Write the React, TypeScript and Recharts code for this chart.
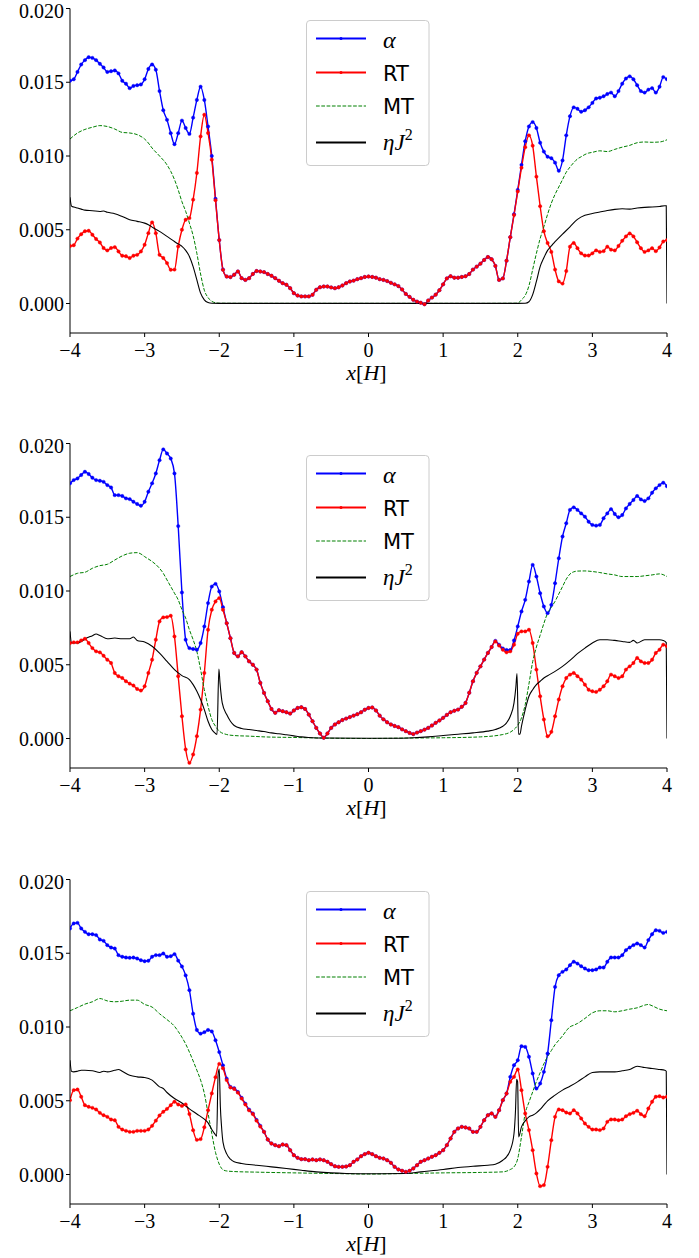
import React from 'react';
import { LineChart, Line, XAxis, YAxis } from 'recharts';

// x positions of the alpha / RT samples: -4 .. 4, step 0.05
const grid = Array.from({ length: 161 }, (_, i) => Math.round((i * 0.05 - 4) * 100) / 100);

const xTicks = [-4, -3, -2, -1, 0, 1, 2, 3, 4];
const yTicks = [0, 0.005, 0.01, 0.015, 0.02];

// every series value below is in units of 1e-3

// ---- panel 1 ----
const alpha1 = [
  15.1, 15.2, 15.7, 16.2, 16.5, 16.7, 16.65, 16.5, 16.25, 16.0,
  15.7, 15.75, 15.8, 15.6, 15.1, 14.9, 14.6, 14.75, 14.8, 14.85,
  15.2, 15.9, 16.2, 15.85, 14.4, 13.1, 12.45, 11.55, 10.8, 11.55,
  12.4, 11.9, 11.5, 12.6, 13.8, 14.7, 13.8, 12.0, 10.0, 7.1,
  4.3, 2.3, 1.83, 1.79, 1.95, 2.17, 1.72, 1.6, 1.72, 2.0,
  2.2, 2.17, 2.13, 2.0, 1.88, 1.72, 1.54, 1.38, 1.27, 1.04,
  0.7, 0.54, 0.48, 0.48, 0.48, 0.59, 0.93, 1.1, 1.15, 1.15,
  1.09, 1.04, 1.1, 1.22, 1.38, 1.49, 1.55, 1.65, 1.72, 1.8,
  1.83, 1.8, 1.75, 1.65, 1.6, 1.52, 1.4, 1.3, 1.18, 0.95,
  0.65, 0.45, 0.25, 0.13, 0.05, -0.05, 0.2, 0.4, 0.6, 0.9,
  1.3, 1.7, 1.85, 1.75, 1.75, 1.8, 1.85, 2.0, 2.3, 2.5,
  2.7, 2.95, 3.15, 3.0, 2.55, 1.6, 1.7, 2.9, 4.5, 6.05,
  7.7, 9.4, 11.0, 12.0, 12.3, 11.9, 10.9, 10.3, 9.95, 9.85,
  9.55, 9.0, 9.7, 11.4, 12.7, 13.3, 13.2, 13.0, 13.1, 13.3,
  13.6, 13.9, 13.95, 14.05, 14.2, 14.3, 14.05, 14.4, 14.9, 15.25,
  15.4, 15.2, 14.8, 14.4, 14.3, 14.5, 14.6, 14.3, 14.7, 15.35,
  15.2,
];
const rt1 = [
  3.9, 3.95, 4.4, 4.7, 4.9, 4.93, 4.66, 4.37, 4.14, 3.76,
  3.6, 3.76, 3.82, 3.53, 3.24, 3.2, 3.08, 3.24, 3.3, 3.53,
  3.98, 4.77, 5.5, 4.77, 3.3, 3.08, 2.74, 2.29, 2.3, 3.87,
  5.0, 5.68, 5.79, 7.04, 8.85, 11.33, 12.8, 11.56, 9.75, 7.0,
  4.3, 2.28, 1.83, 1.79, 1.95, 2.17, 1.72, 1.6, 1.72, 2.0,
  2.2, 2.17, 2.13, 2.0, 1.88, 1.72, 1.54, 1.38, 1.27, 1.04,
  0.7, 0.54, 0.48, 0.48, 0.48, 0.59, 0.93, 1.1, 1.15, 1.15,
  1.09, 1.04, 1.1, 1.22, 1.38, 1.49, 1.55, 1.65, 1.72, 1.8,
  1.83, 1.8, 1.75, 1.65, 1.6, 1.52, 1.4, 1.3, 1.18, 0.95,
  0.65, 0.45, 0.25, 0.13, 0.05, -0.05, 0.2, 0.4, 0.6, 0.9,
  1.3, 1.7, 1.85, 1.75, 1.75, 1.8, 1.85, 2.0, 2.3, 2.5,
  2.7, 2.95, 3.15, 3.0, 2.55, 1.6, 1.7, 2.9, 4.5, 6.0,
  7.6, 9.2, 10.6, 11.4, 10.7, 8.6, 6.6, 4.9, 4.1, 3.5,
  2.3, 1.5, 1.35, 2.2, 3.85, 4.1, 3.75, 3.4, 3.25, 3.25,
  3.4, 3.6, 3.5, 3.55, 3.85, 3.65, 3.6, 3.9, 4.25, 4.55,
  4.75, 4.55, 4.15, 3.75, 3.5, 3.6, 3.75, 3.55, 3.8, 4.2,
  4.3,
];
const mtX1 = [
  -4, -3.9, -3.8, -3.7, -3.6, -3.5, -3.4, -3.3, -3.2, -3.1, -3.0, -2.95, -2.9, -2.8, -2.7,
  -2.65, -2.6, -2.55, -2.5, -2.45, -2.4, -2.35, -2.3, -2.25, -2.2, -2.15, -2.1, -2.05, -2.0,
  -1.5, -1.0, 0, 1.0, 1.5,
  2.0, 2.05, 2.1, 2.15, 2.2, 2.25, 2.3, 2.35, 2.4, 2.45, 2.5, 2.55, 2.6, 2.65, 2.7, 2.75, 2.8,
  2.85, 2.9, 2.95, 3.0, 3.1, 3.2, 3.3, 3.4, 3.5, 3.6, 3.7, 3.8, 3.9, 4.0,
];
const mt1 = [
  11.15, 11.56, 11.8, 11.95, 12.06, 12.0, 11.83, 11.6, 11.56, 11.45, 11.15, 10.88, 10.54, 10.0, 9.4,
  8.96, 8.4, 7.7, 6.9, 6.25, 5.45, 4.6, 3.4, 2.0, 0.9, 0.4, 0.15, 0.05, 0.02,
  0.01, 0.01, 0.01, 0.01, 0.01,
  0.02, 0.25, 0.55, 1.2, 2.3, 3.4, 4.4, 5.2, 6.05, 6.8, 7.4, 7.9, 8.4, 8.9, 9.25, 9.55, 9.8,
  9.95, 10.1, 10.2, 10.25, 10.35, 10.3, 10.45, 10.6, 10.72, 10.9, 10.95, 10.93, 10.95, 11.1,
];
const etaX1 = [
  -4, -3.98, -3.95, -3.9, -3.85, -3.8, -3.7, -3.6, -3.55, -3.5, -3.4, -3.3, -3.2, -3.1, -3.0,
  -2.95, -2.9, -2.8, -2.7, -2.6, -2.55, -2.5, -2.45, -2.4, -2.35, -2.3, -2.25, -2.2, -2.15, -2.1,
  -2.0, -1.0, 0, 1.0, 2.0,
  2.1, 2.15, 2.2, 2.25, 2.3, 2.35, 2.4, 2.45, 2.5, 2.55, 2.6, 2.7, 2.8, 2.9, 3.0,
  3.1, 3.2, 3.3, 3.4, 3.5, 3.6, 3.7, 3.8, 3.9, 3.97, 3.99, 4.0,
];
const eta1 = [
  7.2, 6.6, 6.54, 6.47, 6.4, 6.33, 6.29, 6.24, 6.27, 6.18, 6.09, 5.9, 5.68, 5.57, 5.45,
  5.34, 5.18, 4.89, 4.55, 4.2, 4.03, 3.87, 3.6, 3.19, 2.5, 1.6, 0.7, 0.25, 0.07, 0.02,
  0.01, 0.01, 0.01, 0.01, 0.01,
  0.02, 0.12, 0.6, 1.5, 2.5, 3.1, 3.6, 3.9, 4.2, 4.45, 4.7, 5.2, 5.7, 5.98, 6.1,
  6.2, 6.3, 6.38, 6.42, 6.4, 6.47, 6.52, 6.54, 6.58, 6.63, 6.63, 0,
];

// ---- panel 2 ----
const alpha2 = [
  17.3, 17.52, 17.63, 17.86, 18.08, 17.93, 17.68, 17.52, 17.47, 17.4,
  17.18, 17.02, 16.5, 16.5, 16.44, 16.28, 16.23, 16.05, 15.9, 15.78,
  16.05, 16.73, 17.3, 17.97, 18.87, 19.6, 19.32, 18.98, 17.97, 14.4,
  9.9, 6.7, 6.13, 6.07, 6.02, 6.47, 7.6, 9.18, 10.3, 10.48,
  9.97, 8.9, 7.82, 6.8, 5.8, 5.57, 5.85, 5.57, 5.23, 5.0,
  4.67, 3.77, 3.09, 2.53, 2.0, 1.74, 1.92, 1.85, 1.78, 1.69,
  1.9, 2.07, 2.12, 2.0, 1.62, 1.17, 0.72, 0.34, 0.05, 0.34,
  0.72, 0.95, 1.1, 1.25, 1.35, 1.45, 1.55, 1.65, 1.78, 1.95,
  2.07, 2.1, 1.9, 1.55, 1.3, 1.1, 0.95, 0.85, 0.77, 0.62,
  0.5, 0.38, 0.3, 0.4, 0.5, 0.6, 0.72, 0.88, 1.06, 1.22,
  1.4, 1.6, 1.78, 1.88, 1.96, 2.15, 2.41, 3.1, 3.88, 4.45,
  4.89, 5.35, 5.8, 6.2, 6.62, 6.35, 6.1, 6.0, 6.0, 6.65,
  7.6, 8.61, 9.4, 10.64, 11.77, 10.98, 9.85, 8.95, 8.5, 9.06,
  10.53, 12.22, 13.69, 14.59, 15.5, 15.67, 15.5, 15.26, 15.04, 14.7,
  14.48, 14.43, 14.48, 14.93, 15.26, 15.55, 15.22, 15.0, 15.15, 15.6,
  15.9, 16.17, 16.44, 16.21, 16.1, 16.28, 16.66, 16.96, 17.18, 17.34,
  17.1,
];
const rt2 = [
  6.47, 6.52, 6.52, 6.65, 6.76, 6.47, 6.13, 5.91, 5.84, 5.61,
  5.34, 5.12, 4.44, 4.22, 4.1, 3.88, 3.72, 3.59, 3.36, 3.25,
  3.54, 4.44, 5.34, 6.7, 7.94, 8.21, 8.23, 8.32, 6.92, 4.22,
  1.51, -0.74, -1.65, -1.08, 0.16, 1.96, 4.44, 7.37, 8.73, 9.29,
  9.52, 8.73, 7.82, 6.8, 5.8, 5.57, 5.85, 5.57, 5.23, 5.0,
  4.67, 3.77, 3.09, 2.53, 2.0, 1.74, 1.92, 1.85, 1.78, 1.69,
  1.9, 2.07, 2.12, 2.0, 1.62, 1.17, 0.72, 0.34, 0.05, 0.34,
  0.72, 0.95, 1.1, 1.25, 1.35, 1.45, 1.55, 1.65, 1.78, 1.95,
  2.07, 2.1, 1.9, 1.55, 1.3, 1.1, 0.95, 0.85, 0.77, 0.62,
  0.5, 0.38, 0.3, 0.4, 0.5, 0.6, 0.72, 0.88, 1.06, 1.22,
  1.4, 1.6, 1.78, 1.88, 1.96, 2.15, 2.41, 3.1, 3.88, 4.45,
  4.89, 5.35, 5.8, 6.2, 6.58, 6.3, 6.02, 5.84, 5.91, 6.36,
  7.1, 7.26, 7.26, 7.37, 6.47, 4.67, 2.86, 1.29, 0.15, 0.45,
  1.51, 2.64, 3.54, 4.1, 4.33, 4.44, 4.22, 3.99, 3.65, 3.31,
  3.2, 3.16, 3.31, 3.54, 3.88, 4.33, 4.22, 4.1, 4.22, 4.67,
  4.89, 5.12, 5.46, 5.23, 5.12, 5.12, 5.34, 5.8, 6.02, 6.36,
  6.25,
];
const mtX2 = [
  -4, -3.9, -3.8, -3.7, -3.6, -3.5, -3.4, -3.3, -3.2, -3.1, -3.05, -3.0, -2.9, -2.8,
  -2.75, -2.7, -2.65, -2.6, -2.55, -2.5, -2.45, -2.4, -2.35, -2.3, -2.25, -2.2, -2.15, -2.1, -2.05, -2.0,
  -1.9, -1.8, -1.6, -1.4, -1.0, -0.5, 0, 0.5, 1.0, 1.5, 1.8, 1.9,
  1.95, 2.0, 2.05, 2.1, 2.15, 2.2, 2.25, 2.3, 2.35, 2.4, 2.45, 2.5, 2.55, 2.6, 2.65, 2.7, 2.75, 2.8,
  2.9, 3.0, 3.1, 3.2, 3.3, 3.4, 3.5, 3.6, 3.7, 3.8, 3.9, 4.0,
];
const mt2 = [
  10.98, 11.2, 11.27, 11.54, 11.72, 11.81, 12.1, 12.38, 12.56, 12.6, 12.51, 12.33, 12.0, 11.54,
  11.2, 10.75, 10.3, 9.85, 9.4, 8.73, 8.16, 7.37, 6.7, 5.9, 4.67, 3.31, 2.19, 1.29, 0.83, 0.5,
  0.27, 0.2, 0.16, 0.11, 0.07, 0.02, 0.0, 0.03, 0.05, 0.11, 0.27, 0.43,
  0.61, 0.9, 1.4, 2.3, 3.7, 5.2, 6.2, 7.0, 7.8, 8.5, 8.9, 9.3, 9.8, 10.3, 10.8, 11.15, 11.3, 11.35,
  11.36, 11.32, 11.25, 11.16, 11.09, 10.98, 10.98, 10.98, 11.03, 11.09, 11.16, 10.98,
];
const etaX2 = [
  -4, -3.98, -3.95, -3.9, -3.85, -3.8, -3.7, -3.65, -3.6, -3.5, -3.4, -3.3, -3.2, -3.15, -3.1,
  -3.0, -2.9, -2.8, -2.7, -2.6, -2.5, -2.4, -2.35, -2.3, -2.25, -2.2, -2.15, -2.1, -2.05, -2.03,
  -2.005, -1.99, -1.96, -1.9, -1.85, -1.8, -1.7, -1.6, -1.5, -1.4, -1.3, -1.2, -1.1, -1.0, -0.9,
  -0.8, -0.6, 0, 0.4, 0.6, 0.8, 1.0, 1.2, 1.4, 1.6, 1.7, 1.8, 1.85, 1.9, 1.95,
  1.975, 1.99, 2.01, 2.03, 2.05, 2.1, 2.15, 2.2, 2.25, 2.3, 2.35, 2.4, 2.5, 2.6, 2.7,
  2.8, 2.9, 3.0, 3.1, 3.2, 3.3, 3.4, 3.5, 3.55, 3.6, 3.7, 3.8, 3.9, 3.95, 3.99, 4.0,
];
const eta2 = [
  7.26, 6.5, 6.47, 6.47, 6.58, 6.74, 6.97, 7.08, 6.99, 6.76, 6.81, 6.76, 6.76, 6.88, 6.65,
  6.54, 6.25, 5.79, 5.23, 4.67, 4.26, 3.99, 3.65, 3.2, 2.64, 1.96, 1.17, 0.61, 0.34, 0.27,
  4.7, 3.77, 2.41, 1.62, 1.17, 0.88, 0.68, 0.61, 0.54, 0.47, 0.38, 0.32, 0.25, 0.18, 0.11,
  0.07, 0.03, 0.02, 0.02, 0.05, 0.11, 0.2, 0.29, 0.38, 0.5, 0.61, 0.83, 1.06, 1.51, 2.41,
  3.5, 4.4, 0.3, 0.3, 0.83, 1.96, 2.86, 3.31, 3.65, 3.88, 4.1, 4.26, 4.55, 4.89, 5.3,
  5.75, 6.13, 6.47, 6.7, 6.7, 6.65, 6.58, 6.52, 6.65, 6.47, 6.7, 6.7, 6.7, 6.65, 6.5, 0,
];

// ---- panel 3 ----
const alpha3 = [
  16.68, 17.02, 17.06, 16.68, 16.45, 16.29, 16.29, 16.23, 15.93, 15.84,
  15.55, 15.39, 15.32, 14.87, 14.76, 14.71, 14.69, 14.71, 14.64, 14.53,
  14.46, 14.49, 14.76, 14.87, 14.87, 14.98, 14.76, 14.8, 14.94, 14.5,
  14.1, 13.5, 12.5, 10.9, 9.8, 9.55, 9.65, 9.8, 9.7, 9.1,
  8.3, 7.4, 6.5, 5.94, 5.85, 5.6, 5.2, 4.8, 4.4, 4.14,
  3.7, 3.3, 2.89, 2.37, 2.1, 1.99, 1.92, 2.03, 1.99, 1.65,
  1.31, 1.13, 1.04, 1.04, 0.97, 1.02, 0.97, 1.02, 0.97, 0.86,
  0.7, 0.56, 0.52, 0.52, 0.54, 0.63, 0.86, 1.02, 1.24, 1.38,
  1.47, 1.38, 1.24, 1.13, 1.08, 0.97, 0.79, 0.52, 0.34, 0.25,
  0.18, 0.25, 0.41, 0.63, 0.86, 0.97, 1.08, 1.2, 1.31, 1.47,
  1.65, 1.99, 2.44, 2.89, 3.12, 3.23, 3.19, 3.12, 2.89, 2.89,
  3.23, 3.68, 4.02, 4.14, 3.91, 4.36, 5.04, 5.49, 6.62, 7.41,
  7.75, 8.7, 8.65, 7.98, 6.85, 5.83, 6.17, 6.96, 8.2, 10.46,
  12.72, 13.51, 13.74, 13.9, 14.19, 14.42, 14.3, 14.12, 13.97, 13.85,
  13.85, 13.9, 14.03, 14.03, 14.42, 14.71, 14.71, 14.71, 14.87, 15.21,
  15.39, 15.55, 15.66, 15.55, 15.39, 15.89, 16.29, 16.56, 16.52, 16.38,
  16.45,
];
const rt3 = [
  5.04, 5.72, 5.76, 5.27, 4.7, 4.59, 4.52, 4.41, 4.18, 4.02,
  3.91, 3.73, 3.68, 3.23, 3.05, 2.96, 2.89, 2.89, 2.96, 2.96,
  2.96, 3.05, 3.3, 3.65, 4.0, 4.25, 4.45, 4.7, 4.93, 4.75,
  4.65, 4.75, 4.1, 3.0, 2.35, 2.4, 3.2, 4.36, 5.5, 6.6,
  7.5, 7.2, 6.4, 5.9, 5.8, 5.55, 5.15, 4.75, 4.35, 4.1,
  3.65, 3.25, 2.89, 2.37, 2.1, 1.99, 1.92, 2.03, 1.99, 1.65,
  1.31, 1.13, 1.04, 1.04, 0.97, 1.02, 0.97, 1.02, 0.97, 0.86,
  0.7, 0.56, 0.52, 0.52, 0.54, 0.63, 0.86, 1.02, 1.24, 1.38,
  1.47, 1.38, 1.24, 1.13, 1.08, 0.97, 0.79, 0.52, 0.34, 0.25,
  0.18, 0.25, 0.41, 0.63, 0.86, 0.97, 1.08, 1.2, 1.31, 1.47,
  1.65, 1.99, 2.44, 2.89, 3.12, 3.23, 3.19, 3.12, 2.89, 2.89,
  3.23, 3.68, 4.02, 4.14, 3.91, 4.36, 5.04, 5.49, 6.28, 6.62,
  7.12, 5.72, 4.14, 3.01, 1.65, 0.07, -0.79, -0.72, 0.52, 2.33,
  3.91, 4.41, 4.36, 4.2, 4.14, 4.36, 4.14, 3.8, 3.46, 3.23,
  3.05, 3.05, 3.01, 3.12, 3.57, 3.73, 3.73, 3.68, 3.73, 3.95,
  4.09, 4.18, 4.32, 4.09, 3.95, 4.47, 4.93, 5.27, 5.31, 5.22,
  5.27,
];
const mtX3 = [
  -4, -3.9, -3.8, -3.7, -3.6, -3.5, -3.4, -3.3, -3.2, -3.1, -3.0, -2.9, -2.8, -2.7, -2.6,
  -2.55, -2.5, -2.45, -2.4, -2.35, -2.3, -2.25, -2.2, -2.15, -2.1, -2.05, -2.0, -1.95, -1.9,
  -1.8, -1.5, -1.0, -0.5, 0, 0.5, 1.0, 1.5, 1.8, 1.9,
  1.95, 2.0, 2.05, 2.1, 2.15, 2.2, 2.25, 2.3, 2.35, 2.4, 2.45, 2.5, 2.55, 2.6, 2.65, 2.7, 2.75, 2.8,
  2.9, 3.0, 3.1, 3.2, 3.3, 3.4, 3.5, 3.6, 3.7, 3.75, 3.8, 3.9, 4.0,
];
const mt3 = [
  11.1, 11.32, 11.55, 11.71, 11.93, 11.77, 11.71, 11.75, 11.82, 11.82, 11.53, 11.35, 10.9, 10.5, 10.05,
  9.7, 9.3, 8.85, 8.3, 7.7, 7.07, 6.4, 5.5, 4.14, 2.77, 1.5, 0.7, 0.32, 0.24,
  0.2, 0.16, 0.11, 0.07, 0.03, 0.07, 0.11, 0.14, 0.18, 0.34,
  0.52, 1.08, 2.55, 4.14, 4.9, 5.6, 6.3, 6.9, 7.5, 8.0, 8.4, 8.8, 9.1, 9.4, 9.74, 10.01, 10.12, 10.24,
  10.58, 10.96, 11.1, 11.1, 11.03, 11.1, 11.21, 11.3, 11.48, 11.53, 11.44, 11.21, 11.1,
];
const etaX3 = [
  -4, -3.98, -3.95, -3.9, -3.85, -3.8, -3.7, -3.6, -3.55, -3.5, -3.4, -3.35, -3.3, -3.2, -3.1,
  -3.0, -2.9, -2.8, -2.75, -2.7, -2.6, -2.5, -2.4, -2.3, -2.2, -2.15, -2.1, -2.06, -2.035, -2.015,
  -2.0, -1.985, -1.97, -1.95, -1.9, -1.85, -1.8, -1.7, -1.5, -1.3, -1.1, -0.9, -0.7, -0.5, -0.3,
  0, 0.5, 0.7, 1.0, 1.2, 1.4, 1.6, 1.7, 1.8, 1.85, 1.9, 1.95, 1.97, 1.985, 1.998,
  2.012, 2.05, 2.1, 2.15, 2.2, 2.25, 2.3, 2.35, 2.4, 2.5, 2.6, 2.7, 2.8, 2.9, 3.0,
  3.1, 3.2, 3.3, 3.4, 3.5, 3.6, 3.7, 3.8, 3.9, 3.97, 3.99, 4.0,
];
const eta3 = [
  7.75, 7.0, 6.96, 7.0, 7.07, 7.07, 7.03, 6.92, 7.0, 6.96, 7.07, 7.12, 7.0, 6.73, 6.62,
  6.58, 6.4, 5.94, 5.83, 5.56, 5.15, 4.85, 4.45, 4.1, 3.75, 3.5, 3.05, 2.75, 2.6, 6.8,
  7.15, 4.6, 3.3, 2.2, 1.4, 1.04, 0.86, 0.75, 0.63, 0.52, 0.41, 0.29, 0.18, 0.11, 0.07,
  0.05, 0.07, 0.18, 0.34, 0.47, 0.56, 0.63, 0.7, 0.97, 1.2, 1.65, 2.78, 4.36, 6.46, 6.3,
  2.55, 3.23, 3.64, 3.91, 4.02, 4.18, 4.41, 4.7, 4.99, 5.38, 5.72, 5.99, 6.28, 6.62, 6.92,
  6.96, 6.96, 6.96, 7.03, 7.12, 7.34, 7.25, 7.19, 7.12, 7.07, 7.0, 0,
];

const BLUE = '#0000ff';
const RED = '#ff0000';
const GREEN = '#008000';
const BLACK = '#000000';
const SERIF = 'Liberation Serif';
const SANS = 'DejaVu Sans';

const toPoints = (xs: number[], ys: number[]) => xs.map((x, i) => ({ x, y: ys[i] / 1000 }));

const fmtX = (v: number) => (v < 0 ? '\u2212' + Math.abs(v) : String(v));

const XTick = (props: any) => {
  const { x, y, payload } = props;
  return (
    <text x={x} y={y + 11} textAnchor="middle" dominantBaseline="central" fontFamily={SERIF} fontSize={20} fill="#000">
      {fmtX(payload.value)}
    </text>
  );
};

const YTick = (props: any) => {
  const { x, y, payload } = props;
  // keep the top label inside the drawing
  const ty = Math.max(y, 11);
  return (
    <text x={x} y={ty} textAnchor="end" dominantBaseline="central" fontFamily={SERIF} fontSize={20} fill="#000">
      {Number(payload.value).toFixed(3)}
    </text>
  );
};

const XLabel = (props: any) => {
  const vb = props.viewBox || {};
  return (
    <text x={vb.x + vb.width / 2 - 2} y={vb.y + 47} textAnchor="middle" fontFamily={SERIF} fontSize={22} fill="#000">
      <tspan fontStyle="italic">x</tspan>
      <tspan>[</tspan>
      <tspan fontStyle="italic">H</tspan>
      <tspan>]</tspan>
    </text>
  );
};

const LegendBox = () => (
  <svg width={125} height={148} style={{ position: 'absolute', left: 306, top: 19.5 }}>
    <rect x={0.5} y={0.5} width={122.5} height={145} rx={3.5} fill="#fff" fillOpacity={0.8} stroke="#cccccc" />
    <line x1={10} x2={60} y1={18.5} y2={18.5} stroke={BLUE} strokeWidth={2} />
    <circle cx={35} cy={18.5} r={1.5} fill={BLUE} />
    <text x={77} y={27.5} fontFamily={SERIF} fontStyle="italic" fontSize={24} fill="#000">α</text>
    <line x1={10} x2={60} y1={52.5} y2={52.5} stroke={RED} strokeWidth={2} />
    <circle cx={35} cy={52.5} r={1.5} fill={RED} />
    <text x={77} y={60.7} fontFamily={SANS} fontSize={21} fill="#000">RT</text>
    <line x1={10} x2={60} y1={86} y2={86} stroke={GREEN} strokeWidth={1.2} strokeDasharray="3.7 1.6" />
    <text x={77} y={94} fontFamily={SANS} fontSize={21} fill="#000">MT</text>
    <line x1={10} x2={60} y1={122.5} y2={122.5} stroke={BLACK} strokeWidth={2} />
    <text x={77} y={130} fontFamily={SERIF} fontStyle="italic" fontSize={23} fill="#000">
      ηJ<tspan fontStyle="normal" fontSize={16} dy={-10}>2</tspan>
    </text>
  </svg>
);

interface PanelProps {
  top: number;
  alpha: number[];
  rt: number[];
  mtX: number[];
  mt: number[];
  etaX: number[];
  eta: number[];
}

const Panel = ({ top, alpha, rt, mtX, mt, etaX, eta }: PanelProps) => (
  <div style={{ position: 'absolute', left: 0, top, width: 699, height: 387 }}>
    <LineChart width={699} height={387} margin={{ top: 8.5, right: 32, bottom: 0, left: 0 }}>
      <XAxis
        type="number"
        dataKey="x"
        domain={[-4, 4]}
        allowDataOverflow
        ticks={xTicks}
        height={54}
        tickSize={4}
        tickMargin={2}
        tick={<XTick />}
        axisLine={{ stroke: '#000' }}
        tickLine={{ stroke: '#000' }}
        label={{ content: XLabel }}
      />
      <XAxis
        xAxisId="top"
        orientation="top"
        type="number"
        domain={[-4, 4]}
        allowDataOverflow
        height={0}
        tick={false}
        tickLine={false}
        axisLine={{ stroke: '#000' }}
      />
      <YAxis
        type="number"
        domain={[-0.002, 0.02]}
        allowDataOverflow
        ticks={yTicks}
        width={70}
        tickSize={4}
        tickMargin={2}
        tick={<YTick />}
        axisLine={{ stroke: '#000' }}
        tickLine={{ stroke: '#000' }}
      />
      <YAxis
        yAxisId="right"
        orientation="right"
        type="number"
        domain={[-0.002, 0.02]}
        allowDataOverflow
        width={0}
        tick={false}
        tickLine={false}
        axisLine={{ stroke: '#000' }}
      />
      <Line
        name="alpha"
        data={toPoints(grid, alpha)}
        dataKey="y"
        type="monotone"
        stroke={BLUE}
        strokeWidth={1.4}
        dot={{ r: 1.7, fill: BLUE, stroke: BLUE, strokeWidth: 0.4 }}
        activeDot={false}
        isAnimationActive={false}
      />
      <Line
        name="RT"
        data={toPoints(grid, rt)}
        dataKey="y"
        type="monotone"
        stroke={RED}
        strokeWidth={1.4}
        dot={{ r: 1.7, fill: RED, stroke: RED, strokeWidth: 0.4 }}
        activeDot={false}
        isAnimationActive={false}
      />
      <Line
        name="MT"
        data={toPoints(mtX, mt)}
        dataKey="y"
        type="monotone"
        stroke={GREEN}
        strokeWidth={1}
        strokeDasharray="3.7 1.6"
        dot={false}
        activeDot={false}
        isAnimationActive={false}
      />
      <Line
        name="etaJ2"
        data={toPoints(etaX, eta)}
        dataKey="y"
        type="monotone"
        stroke={BLACK}
        strokeWidth={1.1}
        dot={false}
        activeDot={false}
        isAnimationActive={false}
      />
    </LineChart>
    <LegendBox />
  </div>
);

export default function App() {
  return (
    <div style={{ position: 'absolute', left: 0, top: 0, width: 699, height: 1258, overflow: 'hidden', background: '#fff' }}>
      <Panel top={0} alpha={alpha1} rt={rt1} mtX={mtX1} mt={mt1} etaX={etaX1} eta={eta1} />
      <Panel top={435} alpha={alpha2} rt={rt2} mtX={mtX2} mt={mt2} etaX={etaX2} eta={eta2} />
      <Panel top={871} alpha={alpha3} rt={rt3} mtX={mtX3} mt={mt3} etaX={etaX3} eta={eta3} />
    </div>
  );
}
